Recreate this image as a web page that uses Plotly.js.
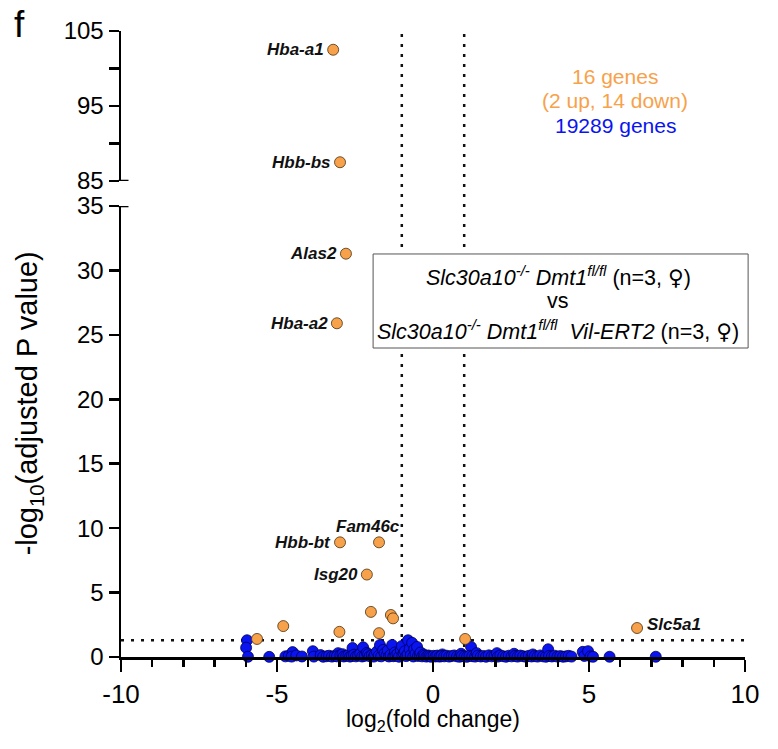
<!DOCTYPE html>
<html>
<head>
<meta charset="utf-8">
<script src="https://cdn.plot.ly/plotly-3.0.1.min.js"></script>
<style>html,body{margin:0;padding:0;background:#fff;}#chart{width:778px;height:749px;}</style>
</head>
<body>
<div id="chart"></div>
<script>
// Significant genes (orange)
const sigLabels = ['Hba-a1','Hbb-bs','Alas2','Hba-a2','Hbb-bt','Fam46c','Isg20','','','','','','','','','Slc5a1'];
const sigX = [-3.20,-2.98,-2.79,-3.08,-2.98,-1.73,-2.12,-1.99,-1.35,-1.28,-4.80,-3.00,-1.73,-5.64,1.03,6.54];
const sigY = [102.5,87.5,31.3,25.9,8.9,8.9,6.4,3.5,3.26,3.0,2.4,1.95,1.85,1.4,1.4,2.25];

// Non-significant genes (blue), representative points
const nsX = [
 -5.96,-5.99,-5.93,-5.25,-4.73,-4.62,-4.50,-4.53,-4.38,-4.20,
 -3.85,-3.82,-3.60,-3.52,-3.41,-3.33,-3.24,-3.15,-3.04,-3.08,
 -2.97,-2.90,-2.86,-2.78,-2.71,-2.66,-2.58,-2.60,-2.53,-2.47,
 -2.40,-2.33,-2.24,-2.27,-2.19,-2.12,-2.08,-2.03,-1.96,-1.90,
 -1.86,-1.80,-1.74,-1.70,-1.66,-1.60,-1.55,-1.49,-1.45,-1.41,
 -1.36,-1.31,-1.27,-1.22,-1.20,-1.14,-1.09,-1.03,-1.00,-0.98,
 -0.94,-0.90,-0.86,-0.81,-0.80,-0.75,-0.71,-0.67,-0.63,-0.60,
 -0.56,-0.51,-0.48,-0.42,-0.40,-0.35,-0.30,-0.27,-0.21,-0.15,
 -0.11,-0.06, 0.02, 0.08, 0.14, 0.21, 0.30, 0.27, 0.36, 0.44,
  0.52, 0.60, 0.68, 0.77, 0.85, 0.90, 0.93, 1.01, 1.09, 1.22,
  1.17, 1.26, 1.35, 1.40, 1.44, 1.53, 1.62, 1.70, 1.79, 1.88,
  1.97, 2.05, 2.08, 2.16, 2.25, 2.34, 2.43, 2.52, 2.60, 2.63,
  2.71, 2.80, 2.89, 2.98, 3.07, 3.16, 3.20, 3.26, 3.35, 3.44,
  3.53, 3.62, 3.69, 3.72, 3.81, 3.90, 3.99, 4.08, 4.17, 4.26,
  4.35, 4.44, 4.80, 4.85, 4.97, 5.05, 5.13, 5.66, 7.14
];
const nsY = [
 1.30,0.72,0.02,0.01,0.05,0.10,0.38,0.03,0.12,0.04,
 0.45,0.03,0.15,0.02,0.06,0.10,0.03,0.08,0.30,0.05,
 0.12,0.22,0.04,0.09,0.14,0.03,0.70,0.08,0.18,0.05,
 0.11,0.26,0.75,0.04,0.09,0.32,0.22,0.06,0.14,0.03,
 0.20,0.42,0.10,0.93,0.05,0.55,0.28,0.12,0.50,0.04,
 0.16,0.93,0.06,0.35,0.10,0.24,0.02,0.54,0.85,0.12,
 0.30,0.45,0.07,0.20,1.30,0.62,0.15,1.10,0.04,0.60,
 0.25,0.78,0.08,0.14,0.35,0.05,0.20,0.10,0.03,0.12,
 0.06,0.02,0.09,0.04,0.11,0.03,0.20,0.07,0.05,0.10,
 0.03,0.08,0.12,0.05,0.02,0.25,0.09,0.04,0.02,0.78,
 0.10,0.06,0.03,0.30,0.11,0.04,0.08,0.02,0.13,0.05,
 0.09,0.30,0.03,0.12,0.06,0.02,0.10,0.05,0.25,0.08,
 0.03,0.11,0.06,0.02,0.09,0.04,0.20,0.07,0.03,0.12,
 0.05,0.02,0.60,0.08,0.04,0.10,0.03,0.07,0.02,0.05,
 0.09,0.03,0.40,0.08,0.45,0.05,0.02,0.02,0.02
];

const xTicks = [-10,-5,0,5,10];
const xTickText = ['-10','-5','0','5','10'];
const yLowTicks = [0,5,10,15,20,25,30,35];
const yHighTicks = [85,95,105];
const pThreshold = 1.3;      // -log10(0.05)
const fcThresholds = [-1, 1];
const countTexts = ['16 genes','(2 up, 14 down)','19289 genes'];

const ORANGE = '#F7A24B';
const BLUE = '#0A14F0';
const FONT = 'Liberation Sans, Arial, sans-serif';
const FEMALE = '<span style="font-family:DejaVu Sans">♀</span>';

const hiIdx = sigY.map((v,i)=>v>=85?i:-1).filter(i=>i>=0);
const loIdx = sigY.map((v,i)=>v<85?i:-1).filter(i=>i>=0);

const traces = [
  {x: nsX, y: nsY, xaxis:'x', yaxis:'y', type:'scatter', mode:'markers', cliponaxis:false,
   marker:{color:BLUE, size:11, line:{color:'#00005a', width:0.8}}},
  {x: loIdx.map(i=>sigX[i]), y: loIdx.map(i=>sigY[i]), xaxis:'x', yaxis:'y', type:'scatter', mode:'markers', cliponaxis:false,
   marker:{color:ORANGE, size:11, line:{color:'#4a3010', width:0.8}}},
  {x: hiIdx.map(i=>sigX[i]), y: hiIdx.map(i=>sigY[i]), xaxis:'x', yaxis:'y2', type:'scatter', mode:'markers', cliponaxis:false,
   marker:{color:ORANGE, size:11, line:{color:'#4a3010', width:0.8}}}
];

const annotations = [];
sigLabels.forEach((lab,i)=>{
  if(!lab) return;
  const hi = sigY[i] >= 85;
  const a = {x: sigX[i], y: sigY[i], xref:'x', yref: hi?'y2':'y', text:'<b><i>'+lab+'</i></b>',
    showarrow:false, font:{family:FONT, size:17, color:'#111'}, xanchor:'right', yanchor:'middle', xshift:-7};
  if(lab==='Fam46c'){ a.xanchor='center'; a.xshift=-11; a.yshift=16; }
  if(lab==='Slc5a1'){ a.xanchor='left'; a.xshift=8; a.yshift=4; }
  annotations.push(a);
});

const countColors = [ORANGE, ORANGE, BLUE];
const countY = [0.927, 0.889, 0.849];
countTexts.forEach((t,i)=>annotations.push({xref:'paper', yref:'paper', x:0.7917, y:countY[i], text:t,
  showarrow:false, xanchor:'center', yanchor:'middle', font:{family:FONT, size:21, color:countColors[i]}}));

const boxLines = [
  '<i>Slc30a10</i><sup><i>-/-</i></sup> <i>Dmt1</i><sup><i>fl/fl</i></sup> (n=3, '+FEMALE+')',
  'vs',
  '<i>Slc30a10</i><sup><i>-/-</i></sup> <i>Dmt1</i><sup><i>fl/fl</i></sup>  <i>Vil-ERT2</i> (n=3, '+FEMALE+')'
];
const boxY = [0.6086, 0.5687, 0.5224];
boxLines.forEach((t,i)=>annotations.push({xref:'paper', yref:'paper', x:0.7010, y:boxY[i], text:t,
  showarrow:false, xanchor:'center', yanchor:'middle', font:{family:FONT, size:21.5, color:'#000'}}));

annotations.push({xref:'paper', yref:'paper', x:-0.146, y:0.405, text:'-log<sub>10</sub>(adjusted P value)',
  textangle:-90, showarrow:false, xanchor:'center', yanchor:'middle', font:{family:FONT, size:29, color:'#000'}});
annotations.push({xref:'paper', yref:'paper', x:0.5, y:-0.102, text:'log<sub>2</sub>(fold change)',
  showarrow:false, xanchor:'center', yanchor:'middle', font:{family:FONT, size:23, color:'#000'}});
annotations.push({xref:'paper', yref:'paper', x:-0.162, y:1.046, text:'f',
  showarrow:false, xanchor:'center', yanchor:'top', font:{family:FONT, size:37, color:'#000'}});

const DOT = {dash:'3px,7px', width:2.5, color:'#111'};
const shapes = [];
fcThresholds.forEach(v=>shapes.push({type:'line', xref:'x', yref:'paper', x0:v, x1:v, y0:0, y1:1, line:DOT, layer:'below'}));
shapes.push({type:'line', xref:'paper', yref:'y', x0:0, x1:1, y0:pThreshold, y1:pThreshold, line:DOT, layer:'below'});
shapes.push({type:'rect', xref:'paper', yref:'paper', x0:0.404, x1:1.005, y0:0.4936, y1:0.6438,
  fillcolor:'#fff', line:{color:'#555', width:1}, layer:'above'});
shapes.push({type:'line', xref:'paper', yref:'y2', x0:-0.004, x1:0.012, y0:85, y1:85, line:{color:'#000', width:2.5}});
shapes.push({type:'line', xref:'paper', yref:'y', x0:-0.004, x1:0.012, y0:35, y1:35, line:{color:'#000', width:2.5}});

const axisCommon = {showgrid:false, zeroline:false, showline:true, linecolor:'#000', linewidth:2.5,
  ticks:'outside', tickcolor:'#000', tickwidth:2.5, tickfont:{family:FONT, size:24, color:'#000'}};

const layout = {
  width:778, height:749,
  margin:{l:121, r:33, t:31, b:92},
  paper_bgcolor:'#fff', plot_bgcolor:'#fff',
  showlegend:false,
  xaxis: Object.assign({}, axisCommon, {range:[-10,10], tickmode:'array', tickvals:xTicks, ticktext:xTickText, ticklen:12,
    tickfont:{family:FONT, size:26, color:'#000'},
    anchor:'y', minor:{dtick:1, tick0:0, ticks:'outside', ticklen:7, tickwidth:2.5, tickcolor:'#000'}}),
  yaxis: Object.assign({}, axisCommon, {domain:[0,0.7204], range:[0,35], tickmode:'array', tickvals:yLowTicks,
    ticklen:10, anchor:'x'}),
  yaxis2: Object.assign({}, axisCommon, {domain:[0.7604,1], range:[85,105], tickmode:'array', tickvals:yHighTicks,
    ticklen:10, anchor:'x', minor:{tickvals:[90,100], ticks:'outside', ticklen:10, tickwidth:2.5, tickcolor:'#000'}}),
  annotations: annotations,
  shapes: shapes
};

Plotly.newPlot('chart', traces, layout, {displayModeBar:false, staticPlot:true});
</script>
</body>
</html>
